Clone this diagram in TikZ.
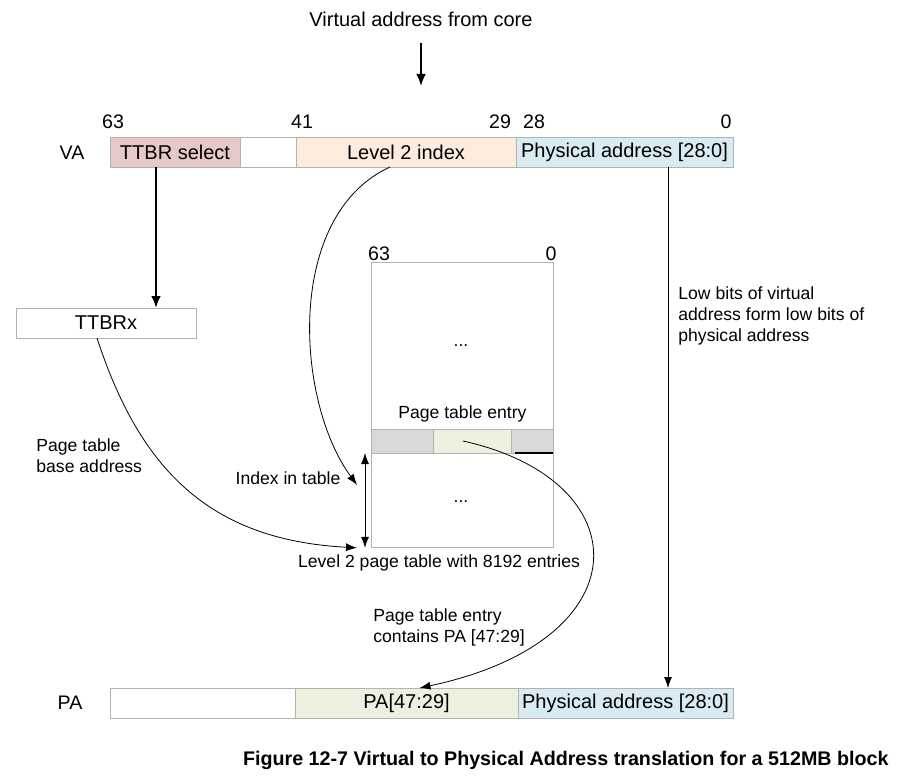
\documentclass[tikz,border=0pt]{standalone}
\usepackage{fontspec}
\setmainfont{Liberation Sans}
\usepackage{tikz}
\usetikzlibrary{arrows.meta}

\definecolor{selred}{RGB}{230,200,200}
\definecolor{idxorange}{RGB}{253,236,222}
\definecolor{pablue}{RGB}{216,234,242}
\definecolor{pegreen}{RGB}{235,241,222}
\definecolor{pegrey}{RGB}{217,217,217}

\begin{document}
\begin{tikzpicture}[x=0.5pt,y=-0.5pt,>={Latex[length=5.5pt,width=4pt]},
  font=\fontsize{8.8}{10.5}\selectfont,
  field/.style={draw=gray!60, minimum height=15pt, inner sep=0pt, outer sep=0pt, anchor=west,
    font=\fontsize{10}{12}\selectfont},
  bitnum/.style={font=\fontsize{9.8}{12}\selectfont},
  bigarrow/.style={-{Latex[length=6pt,width=5pt]}, line width=1.2pt}]
\useasboundingbox (0,0) rectangle (897,781);

\node[font=\fontsize{10}{12}\selectfont] (core) at (421,19) {Virtual address from core};
\coordinate (coreend) at (421,86);
\draw[bigarrow, shorten <=5pt] (core) -- (coreend);

% virtual address
\node[bitnum] (va) at (72,153) {VA};
\node[field, fill=selred, minimum width=65pt] (sel) at (110,152) {TTBR select};
\node[field, minimum width=28pt] (gap) at (sel.east) {};
\node[field, fill=idxorange, minimum width=110pt] (idx) at (gap.east) {Level 2 index};
\node[field, fill=pablue, minimum width=108.5pt] (vapa) at (idx.east) {Physical address [28:0]};
\foreach \pos/\bit in {113/63, 302/41, 500/29, 534/28, 726/0}
  \node[bitnum] (b\bit) at (\pos,122) {\bit};

\node[field, minimum width=90pt] (ttbrx) at (16,323) {TTBRx};
\coordinate (selx) at (156,0);
\draw[bigarrow] (selx |- sel.south) -- (selx |- ttbrx.north);

% level 2 table
\node[draw=gray!60, minimum width=91pt, minimum height=142.5pt, inner sep=0pt, anchor=north west] (table) at (371,262) {};
\node[bitnum] (t63) at (379,254) {63};
\node[bitnum] (t0) at (551,254) {0};
\node (dotsup) at (461,346) {...};
\node (dotsdn) at (461,502) {...};
\node[field, fill=pegrey, minimum width=31pt, minimum height=12pt] (entl) at (371,441) {};
\node[field, fill=pegreen, minimum width=39pt, minimum height=12pt] (entm) at (entl.east) {};
\node[field, fill=pegrey, minimum width=21pt, minimum height=12pt] (entr) at (entm.east) {};
\draw[line width=0.8pt] ([xshift=2pt]entr.south west) -- (entr.south east);
\node[above, inner sep=3pt] (entlabel) at (table.center |- entm.north) {Page table entry};
\draw[<->] ([xshift=-3pt]entl.south west) -- ([xshift=-3pt]table.south west);

\node (idxlabel) at (288,478) {Index in table};
\node[anchor=north west, align=left, inner sep=0pt] (baselabel) at (36,438) {Page table\\base address};
\node (tablelabel) at (439,563) {Level 2 page table with 8192 entries};
\node[anchor=north west, align=left, inner sep=0pt] (pelabel) at (373,608) {Page table entry\\contains PA [47:29]};
\node[anchor=north west, align=left, inner sep=0pt] (lowlabel) at (678,286) {Low bits of virtual\\address form low bits of\\physical address};

% physical address
\node[bitnum] (pa) at (70,703) {PA};
\node[field, minimum width=92.5pt] (pahi) at (110,703) {};
\node[field, fill=pegreen, minimum width=111.5pt] (pamid) at (pahi.east) {PA[47:29]};
\node[field, fill=pablue, minimum width=107.5pt] (palo) at (pamid.east) {Physical address [28:0]};

\coordinate (idxtip) at (357,485);
\draw[->] ([xshift=-8pt]idx.south) .. controls (285,215) and (295,400) .. (idxtip);
\draw[->] ([xshift=-4.5pt]ttbrx.south) .. controls (140,470) and (210,540) .. ([xshift=-7pt]table.south west);
\draw[->] ([xshift=-4.5pt]entm.center) .. controls (640,480) and (645,640) .. ([xshift=6.5pt]pamid.north);
\coordinate (lowx) at (668,0);
\draw[->] (lowx |- vapa.south) -- (lowx |- palo.north);

\node[anchor=east, inner sep=0pt, font=\bfseries\fontsize{9.85}{11}\selectfont] (caption) at (889,760) {Figure 12-7 Virtual to Physical Address translation for a 512MB block};
\end{tikzpicture}
\end{document}
